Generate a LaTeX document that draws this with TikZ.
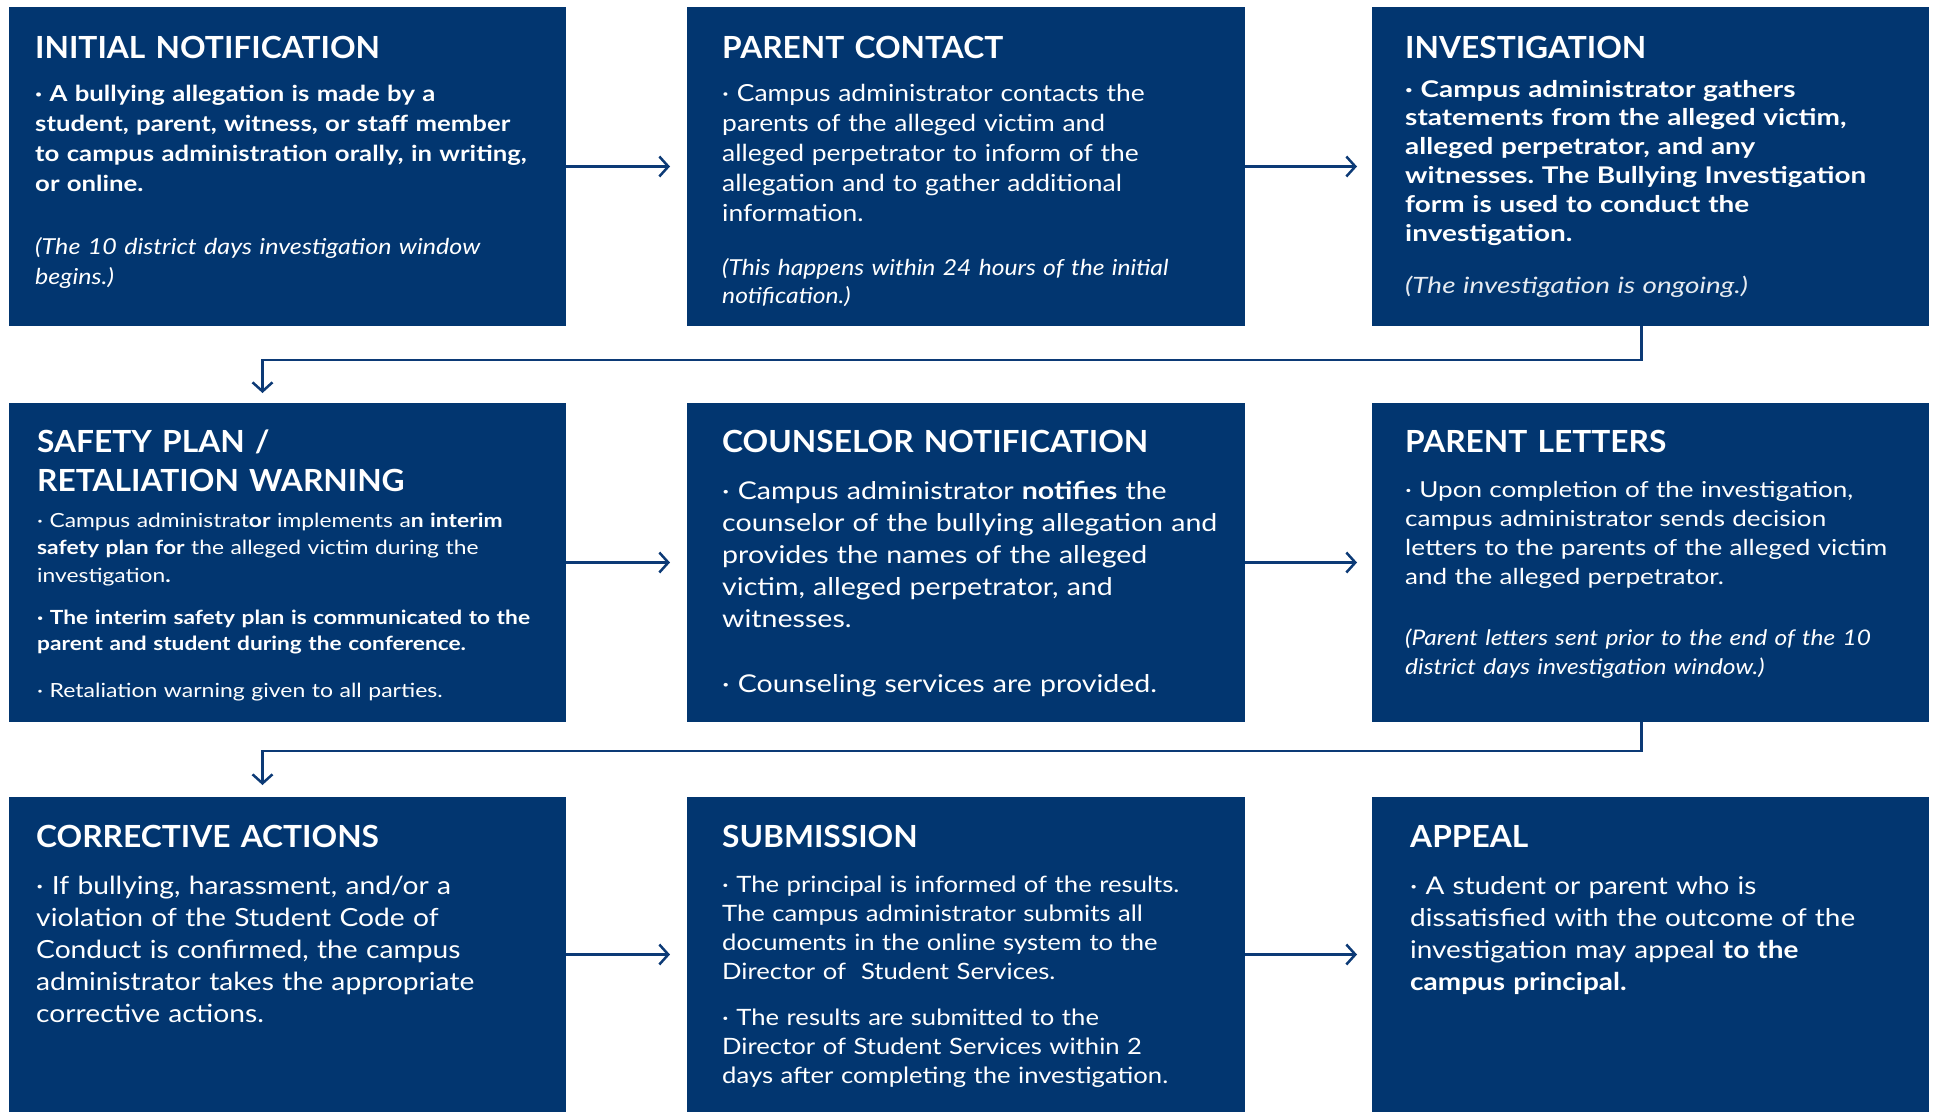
\documentclass[tikz,border=0pt]{standalone}
\usepackage{fontspec}
\setmainfont{Lato}
\usetikzlibrary{arrows.meta,calc}
\definecolor{navy}{RGB}{2,54,112}
\definecolor{linec}{RGB}{12,58,118}
\newcommand{\wide}[1]{\addfontfeature{FakeStretch=#1}}
\frenchspacing
\begin{document}
\begin{tikzpicture}[x=1pt,y=-1pt,
  box/.style={fill=navy, draw=none, inner sep=0pt, outer sep=0pt, anchor=north west},
  ttl/.style={anchor=base west, inner sep=0pt, text=white, text width=560pt, align=left,
              font=\fontsize{30.5}{39}\selectfont\bfseries\wide{1.04}},
  txt/.style={anchor=base west, inner sep=0pt, text=white, text width=560pt, align=left},
  flow/.style={draw=linec, line width=2.5pt, -{Straight Barb[length=9pt,width=20pt]}}
]
\useasboundingbox (0,0) rectangle (1935,1112);

% boxes
\node[box, minimum width=557pt, minimum height=319pt] (b1) at (9,7) {};
\node[box, minimum width=558pt, minimum height=319pt] (b2) at (687,7) {};
\node[box, minimum width=557pt, minimum height=319pt] (b3) at (1372,7) {};
\node[box, minimum width=557pt, minimum height=319pt] (b4) at (9,403) {};
\node[box, minimum width=558pt, minimum height=319pt] (b5) at (687,403) {};
\node[box, minimum width=557pt, minimum height=319pt] (b6) at (1372,403) {};
\node[box, minimum width=557pt, minimum height=315pt] (b7) at (9,797) {};
\node[box, minimum width=558pt, minimum height=315pt] (b8) at (687,797) {};
\node[box, minimum width=557pt, minimum height=315pt] (b9) at (1372,797) {};

% box 1
\node[ttl] (h1) at (35,58) {INITIAL NOTIFICATION};
\node[txt, font=\fontsize{22}{30}\selectfont\bfseries\wide{1.17}] (p1) at (35,101)
  {· A bullying allegation is made by a\\
   student, parent, witness, or staff member\\
   to campus administration orally, in writing,\\
   or online.};
\node[txt, font=\fontsize{22}{30}\selectfont\itshape\wide{1.14}] (n1) at (35,254)
  {(The 10 district days investigation window\\ begins.)};

% box 2
\node[ttl] (h2) at (722,58) {PARENT CONTACT};
\node[txt, font=\fontsize{23.5}{30}\selectfont\wide{1.125}] (p2) at (722,101)
  {· Campus administrator contacts the\\
   parents of the alleged victim and\\
   alleged perpetrator to inform of the\\
   allegation and to gather additional\\
   information.};
\node[txt, font=\fontsize{22}{28}\selectfont\itshape\wide{1.12}] (n2) at (722,275)
  {(This happens within 24 hours of the initial\\ notification.)};

% box 3
\node[ttl] (h3) at (1405,58) {INVESTIGATION};
\node[txt, font=\fontsize{23}{28.8}\selectfont\bfseries\wide{1.215}] (p3) at (1405,97)
  {· Campus administrator gathers\\
   statements from the alleged victim,\\
   alleged perpetrator, and any\\
   witnesses. The Bullying Investigation\\
   form is used to conduct the\\
   investigation.};
\node[txt, font=\fontsize{22.5}{29}\selectfont\itshape\wide{1.24}, text=white!90!navy] (n3) at (1405,293)
  {(The investigation is ongoing.)};

% box 4
\node[ttl] (h4) at (37,452) {SAFETY PLAN /\\ RETALIATION WARNING};
\node[txt, font=\fontsize{19.5}{27.8}\selectfont\wide{1.17}] (p4a) at (37,527)
  {· Campus administrat\textbf{or} implements a\textbf{n interim}\\
   \textbf{safety plan for} the alleged victim during the\\
   investigation\textbf{.}};
\node[txt, font=\fontsize{19.5}{26.5}\selectfont\bfseries\wide{1.165}] (p4b) at (37,624)
  {· The interim safety plan is communicated to the\\
   parent and student during the conference.};
\node[txt, font=\fontsize{19.5}{27.8}\selectfont\wide{1.18}] (p4c) at (37,697)
  {· Retaliation warning given to all parties.};

% box 5
\node[ttl] (h5) at (722,452) {COUNSELOR NOTIFICATION};
\node[txt, font=\fontsize{24.5}{32}\selectfont\wide{1.165}] (p5a) at (722,499)
  {· Campus administrator \textbf{notifies} the\\
   counselor of the bullying allegation and\\
   provides the names of the alleged\\
   victim, alleged perpetrator, and\\
   witnesses.};
\node[txt, font=\fontsize{24.5}{32}\selectfont\wide{1.165}] (p5b) at (722,692)
  {· Counseling services are provided.};

% box 6
\node[ttl] (h6) at (1405,452) {PARENT LETTERS};
\node[txt, font=\fontsize{22}{29}\selectfont\wide{1.185}] (p6) at (1405,497)
  {· Upon completion of the investigation,\\
   campus administrator sends decision\\
   letters to the parents of the alleged victim\\
   and the alleged perpetrator.};
\node[txt, font=\fontsize{21.5}{29}\selectfont\itshape\wide{1.14}] (n6) at (1405,645)
  {(Parent letters sent prior to the end of the 10\\
   district days investigation window.)};

% box 7
\node[ttl] (h7) at (36,847) {CORRECTIVE ACTIONS};
\node[txt, font=\fontsize{25}{32}\selectfont\wide{1.128}] (p7) at (36,894)
  {· If bullying, harassment, and/or a\\
   violation of the Student Code of\\
   Conduct is confirmed, the campus\\
   administrator takes the appropriate\\
   corrective actions.};

% box 8
\node[ttl] (h8) at (722,847) {SUBMISSION};
\node[txt, font=\fontsize{22.5}{29}\selectfont\wide{1.14}] (p8a) at (722,892)
  {· The principal is informed of the results.\\
   The campus administrator submits all\\
   documents in the online system to the\\
   Director of~ Student Services.};
\node[txt, font=\fontsize{22.5}{29}\selectfont\wide{1.14}] (p8b) at (722,1025)
  {· The results are submitted to the\\
   Director of Student Services within 2\\
   days after completing the investigation.};

% box 9
\node[ttl] (h9) at (1410,847) {APPEAL};
\node[txt, font=\fontsize{24.5}{32}\selectfont\wide{1.14}] (p9) at (1410,894)
  {· A student or parent who is\\
   dissatisfied with the outcome of the\\
   investigation may appeal \textbf{to the}\\
   \textbf{campus principal.}};

% connectors
\draw[flow, shorten >=17pt] (b1.east) -- (b2.west);
\draw[flow, shorten >=15pt] (b2.east) -- (b3.west);
\draw[flow, shorten >=17pt] (b4.east) -- (b5.west);
\draw[flow, shorten >=15pt] (b5.east) -- (b6.west);
\draw[flow, shorten >=17pt] (b7.east) -- (b8.west);
\draw[flow, shorten >=15pt] (b8.east) -- (b9.west);

\coordinate (j1) at ([xshift=-9pt,yshift=-34pt]b3.south);
\draw[flow, shorten >=10pt] ([xshift=-9pt]b3.south) -- (j1) -| ([xshift=-25pt]b4.north);
\coordinate (j2) at ([xshift=-9pt,yshift=-29pt]b6.south);
\draw[flow, shorten >=12pt] ([xshift=-9pt]b6.south) -- (j2) -| ([xshift=-25pt]b7.north);
\end{tikzpicture}
\end{document}
